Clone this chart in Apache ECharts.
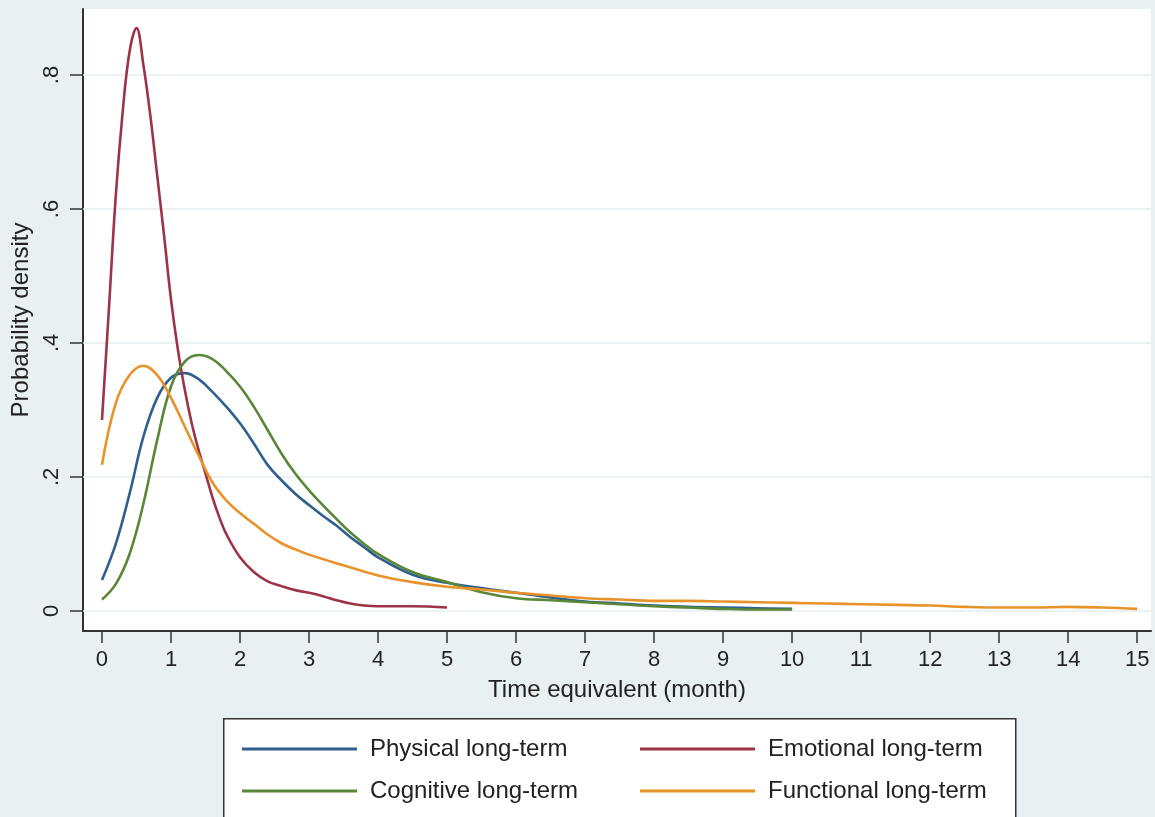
<!DOCTYPE html>
<html>
<head>
<meta charset="utf-8">
<script src="https://cdn.jsdelivr.net/npm/echarts@6/dist/echarts.min.js"></script>
<style>
html,body{margin:0;padding:0;background:#e9f0f2;}
#chart{width:1155px;height:817px;}
</style>
</head>
<body>
<div id="chart"></div>
<script>
// ---- data ----
const xTicks = [0,1,2,3,4,5,6,7,8,9,10,11,12,13,14,15];
const yTicks = [0,0.2,0.4,0.6,0.8];
const yTickLabels = ['0','.2','.4','.6','.8'];

const xGrid10 = [0,0.2,0.4,0.6,0.8,1.0,1.2,1.4,1.6,1.8,2.0,2.2,2.4,2.6,2.8,3.0,3.2,3.4,3.6,3.8,4.0,4.5,5.0,5.5,6.0,6.5,7.0,7.5,8.0,8.5,9.0,9.5,10.0];
const physicalY = [0.046,0.10,0.175,0.26,0.318,0.348,0.355,0.346,0.327,0.305,0.28,0.25,0.218,0.195,0.175,0.158,0.142,0.127,0.11,0.095,0.08,0.054,0.042,0.034,0.027,0.02,0.014,0.011,0.008,0.006,0.005,0.004,0.003];
const cognitiveY = [0.017,0.04,0.085,0.16,0.255,0.335,0.372,0.382,0.376,0.358,0.335,0.305,0.27,0.235,0.205,0.18,0.158,0.137,0.117,0.1,0.085,0.058,0.043,0.028,0.019,0.016,0.013,0.01,0.007,0.005,0.003,0.002,0.002];

const emotionalX = [0,0.1,0.2,0.3,0.4,0.5,0.6,0.7,0.8,0.9,1.0,1.1,1.2,1.3,1.4,1.5,1.6,1.7,1.8,2.0,2.2,2.4,2.6,2.8,3.0,3.2,3.4,3.6,3.8,4.0,4.5,5.0];
const emotionalY = [0.285,0.45,0.62,0.745,0.835,0.87,0.815,0.74,0.65,0.56,0.465,0.39,0.33,0.28,0.24,0.205,0.17,0.14,0.115,0.08,0.058,0.044,0.037,0.031,0.027,0.022,0.016,0.011,0.008,0.007,0.007,0.005];

const functionalX = [0,0.2,0.4,0.6,0.8,1.0,1.2,1.4,1.6,1.8,2.0,2.2,2.4,2.6,2.8,3.0,3.5,4.0,4.5,5.0,5.5,6.0,6.5,7.0,7.5,8.0,8.5,9.0,9.5,10,10.5,11,11.5,12,12.5,13,13.5,14,14.5,15];
const functionalY = [0.218,0.31,0.352,0.366,0.352,0.318,0.275,0.232,0.192,0.165,0.146,0.13,0.114,0.101,0.092,0.084,0.068,0.053,0.043,0.036,0.032,0.027,0.023,0.019,0.017,0.015,0.015,0.014,0.013,0.012,0.011,0.01,0.009,0.008,0.006,0.005,0.005,0.006,0.005,0.003];

const seriesNames = ['Physical long-term','Emotional long-term','Cognitive long-term','Functional long-term'];
const colors = ['#2f5f8e','#9c3446','#5a8638','#e8922a'];

const zip = (xs, ys) => xs.map((x, i) => [x, ys[i]]);
const FONT = 'Liberation Sans, Arial, sans-serif';

const chart = echarts.init(document.getElementById('chart'), null, {renderer:'canvas'});

const lineSeries = (name, data, color, extra) => Object.assign({
  name, type:'line', data, smooth:0.4, showSymbol:false, symbol:'none',
  lineStyle:{color, width:2.6}, itemStyle:{color}, z:3
}, extra || {});

const legendText = {fontSize:24, color:'#222', fontFamily:FONT, padding:[0,0,0,8], lineHeight:24};

chart.setOption({
  backgroundColor:'#e9f0f2',
  animation:false,
  textStyle:{fontFamily:FONT},
  grid:{left:83, top:9, right:4, bottom:186, show:true, backgroundColor:'#ffffff', borderWidth:0},
  xAxis:{
    type:'value', min:-0.275, max:15.2,
    name:'Time equivalent (month)', nameLocation:'middle', nameGap:47,
    nameTextStyle:{fontSize:24, color:'#222', fontFamily:FONT},
    axisLine:{show:true, onZero:false, lineStyle:{color:'#333', width:2}},
    axisTick:{show:true, length:12, customValues:xTicks, lineStyle:{color:'#333', width:1.5}},
    axisLabel:{customValues:xTicks, fontSize:22, color:'#222', margin:18, fontFamily:FONT},
    splitLine:{show:false}
  },
  yAxis:{
    type:'value', min:-0.03, max:0.8985,
    name:'Probability density', nameLocation:'middle', nameGap:45,
    nameTextStyle:{fontSize:24, color:'#222', fontFamily:FONT},
    axisLine:{show:true, onZero:false, lineStyle:{color:'#333', width:2}},
    axisTick:{show:true, length:13, customValues:yTicks, lineStyle:{color:'#333', width:1.5}},
    axisLabel:{customValues:yTicks, rotate:90, fontSize:22, color:'#222', margin:20, fontFamily:FONT,
      formatter:(v) => { const i = yTicks.findIndex(t => Math.abs(t - v) < 1e-9); return i >= 0 ? yTickLabels[i] : ''; }},
    splitLine:{show:false}
  },
  legend:[
    {data:[seriesNames[0], seriesNames[2]], orient:'vertical', left:237, top:732,
     icon:'rect', itemWidth:115, itemHeight:3, itemGap:18, textStyle:legendText},
    {data:[seriesNames[1], seriesNames[3]], orient:'vertical', left:635, top:732,
     icon:'rect', itemWidth:115, itemHeight:3, itemGap:18, textStyle:legendText}
  ],
  graphic:[
    {type:'rect', left:223, top:718, shape:{width:792, height:99},
     style:{fill:'#ffffff', stroke:'#333', lineWidth:1.5}, z:-1, silent:true}
  ],
  series:[
    lineSeries(seriesNames[0], zip(xGrid10, physicalY), colors[0], {
      markLine:{silent:true, symbol:'none', label:{show:false}, z:1,
        lineStyle:{color:'#e6eef0', width:1.5, type:'solid'},
        data: yTicks.map(t => ({yAxis:t}))}
    }),
    lineSeries(seriesNames[1], zip(emotionalX, emotionalY), colors[1]),
    lineSeries(seriesNames[2], zip(xGrid10, cognitiveY), colors[2]),
    lineSeries(seriesNames[3], zip(functionalX, functionalY), colors[3])
  ]
});
</script>
</body>
</html>
